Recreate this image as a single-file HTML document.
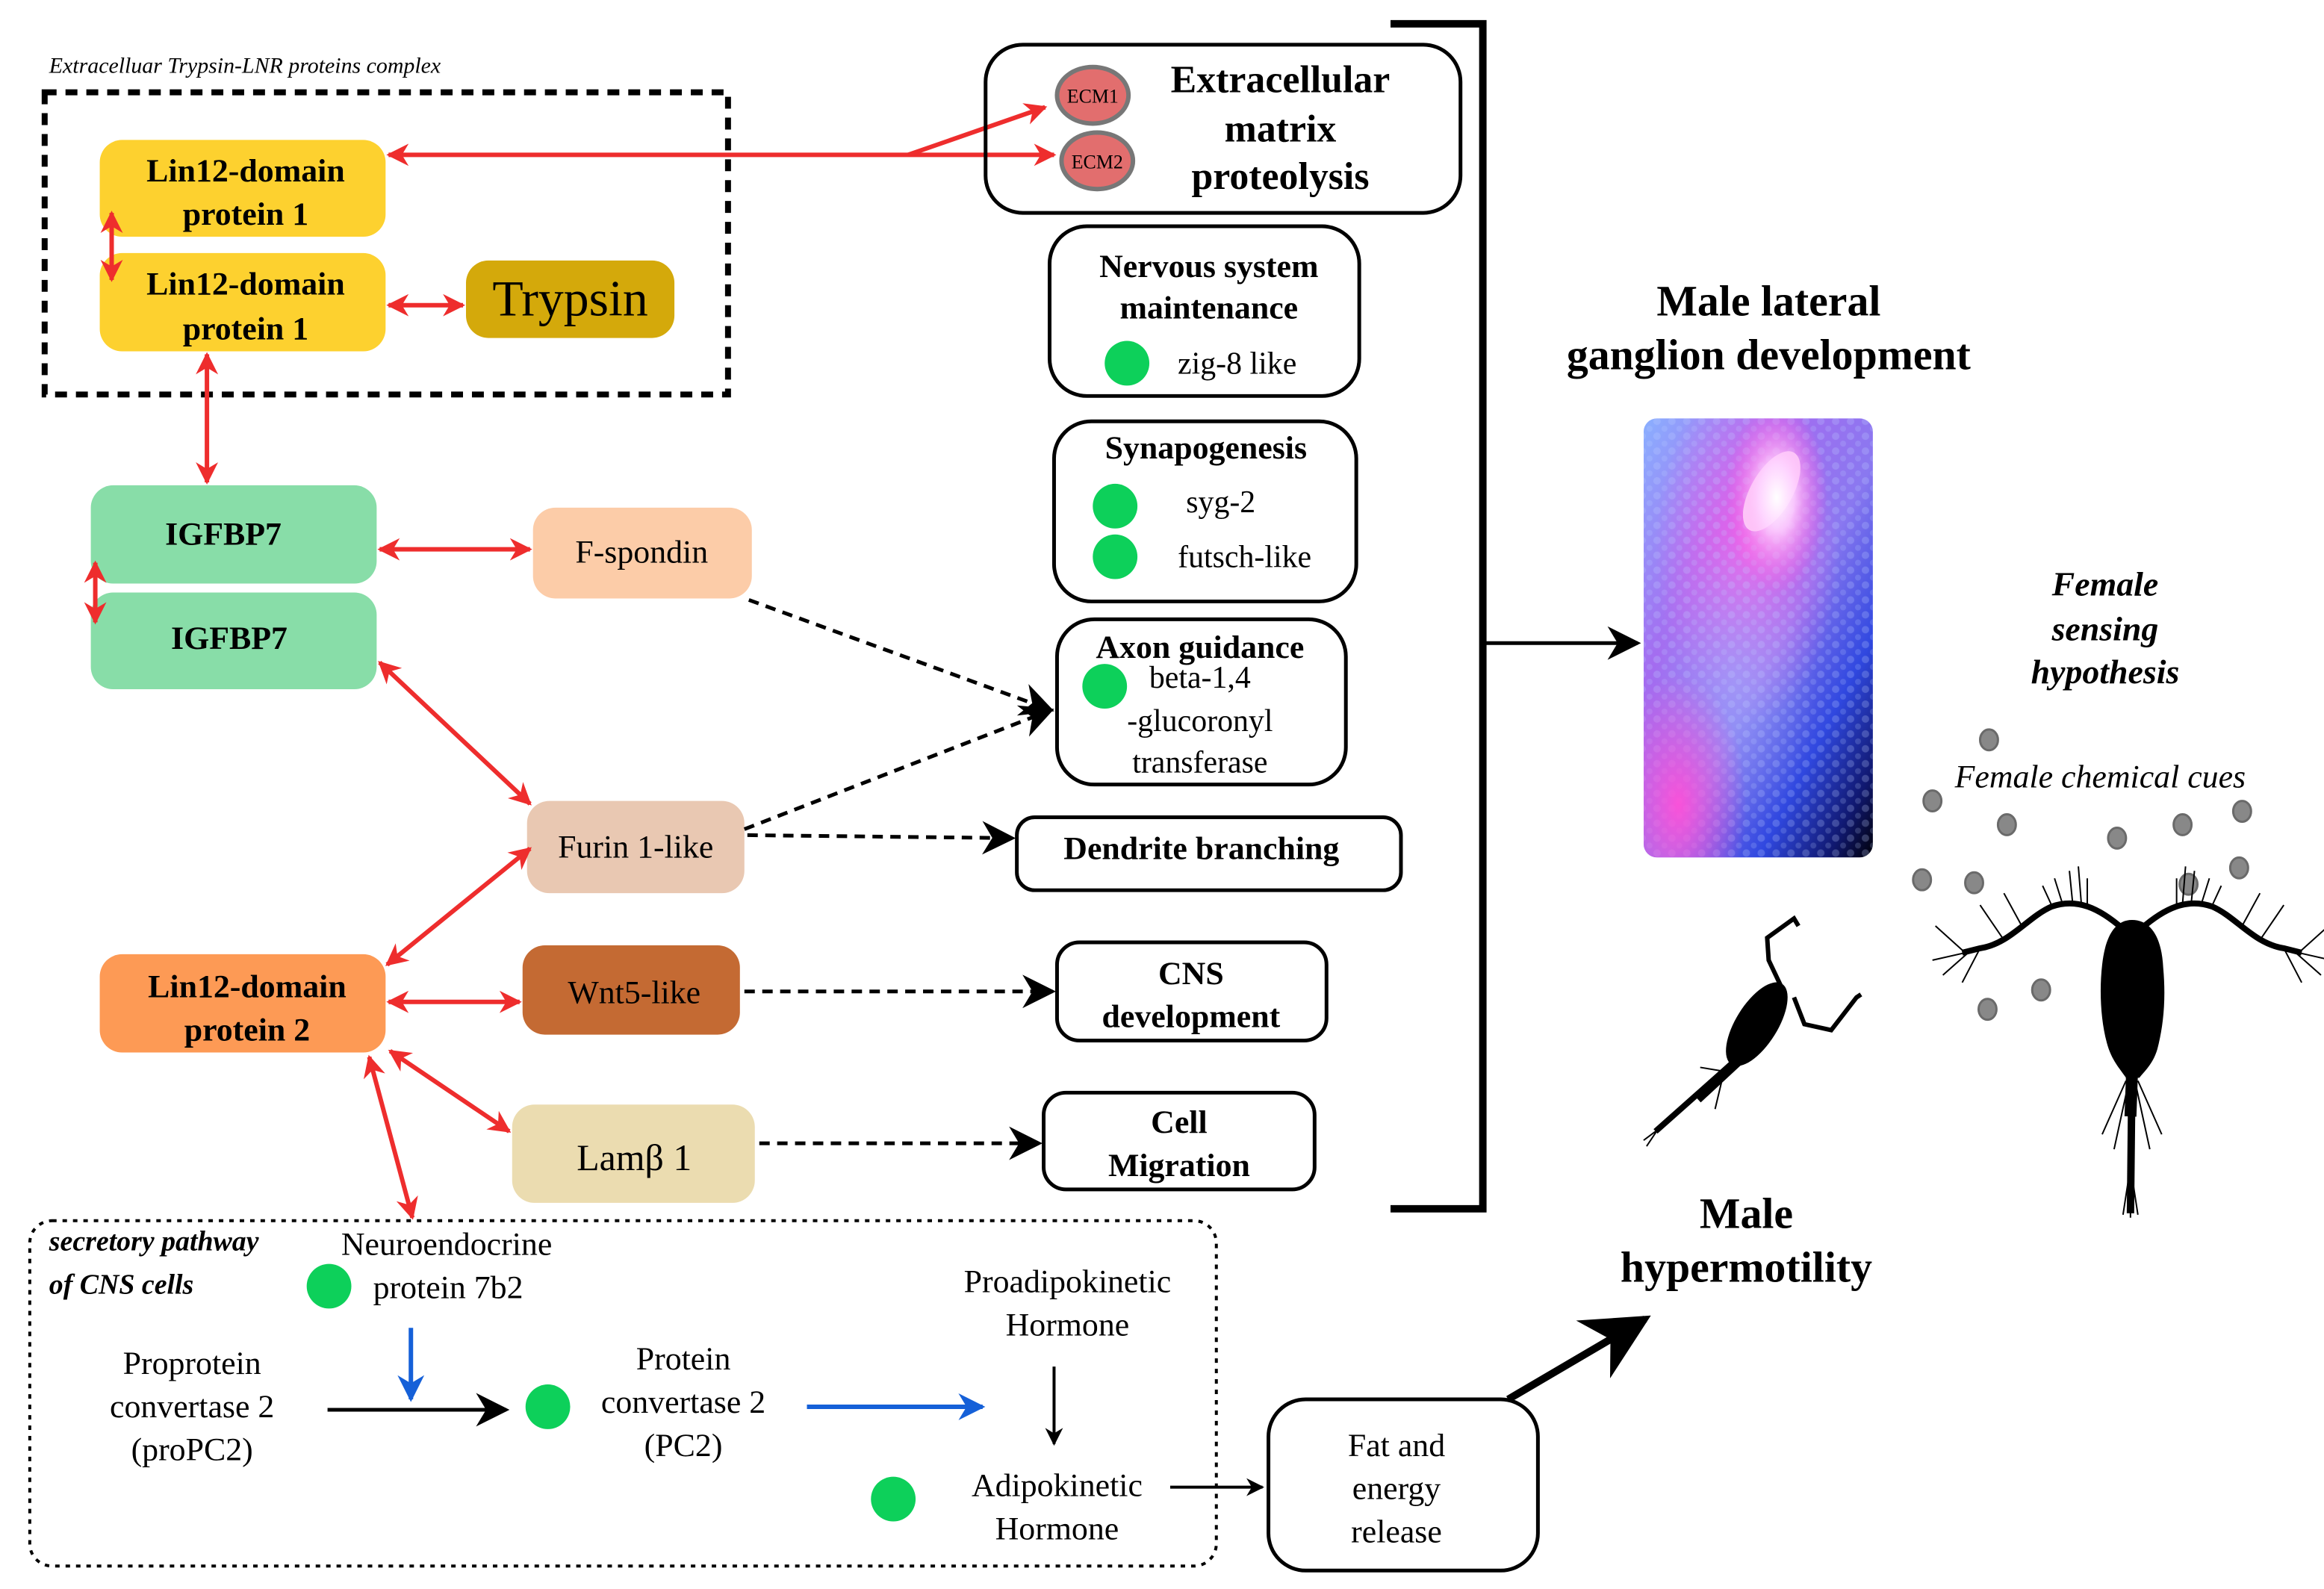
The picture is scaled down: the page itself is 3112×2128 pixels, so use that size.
<!DOCTYPE html>
<html><head><meta charset="utf-8"><style>
html,body{margin:0;padding:0;background:#fff;}
svg{display:block;}
text{font-family:"Liberation Serif",serif;}
</style></head><body>
<svg width="3112" height="2128" viewBox="0 0 1561 1067.4" xmlns="http://www.w3.org/2000/svg">
<defs>
<marker id="ra" viewBox="0 0 10 10" refX="9" refY="5" markerWidth="5" markerHeight="5" orient="auto-start-reverse"><path d="M0,0 L10,5 L0,10 L3,5 z" fill="#EE2D2D"/></marker>
<marker id="ba" viewBox="0 0 10 10" refX="9" refY="5" markerWidth="9" markerHeight="9" orient="auto"><path d="M0,0 L10,5 L0,10 L3,5 z" fill="#000"/></marker>
<marker id="bb" viewBox="0 0 10 10" refX="9" refY="5" markerWidth="6" markerHeight="6" orient="auto"><path d="M0,0 L10,5 L0,10 L3,5 z" fill="#1560d8"/></marker>
<marker id="bs" viewBox="0 0 10 10" refX="9" refY="5" markerWidth="6" markerHeight="6" orient="auto"><path d="M0,0 L10,5 L0,10 L3,5 z" fill="#000"/></marker>
<linearGradient id="img" x1="0" y1="0" x2="1" y2="1">
<stop offset="0" stop-color="#8ab0ff"/><stop offset="0.3" stop-color="#a46cf0"/><stop offset="0.55" stop-color="#8a78f0"/><stop offset="0.75" stop-color="#3048e0"/><stop offset="0.9" stop-color="#101870"/><stop offset="1" stop-color="#000008"/></linearGradient>
<radialGradient id="w1" cx="0.58" cy="0.18" r="0.22"><stop offset="0" stop-color="#ffffff" stop-opacity="1"/><stop offset="0.35" stop-color="#ffd0ff" stop-opacity="0.9"/><stop offset="1" stop-color="#ff50e0" stop-opacity="0"/></radialGradient>
<radialGradient id="p1" cx="0.45" cy="0.3" r="0.4"><stop offset="0" stop-color="#ff60e8" stop-opacity="0.8"/><stop offset="1" stop-color="#ff60e8" stop-opacity="0"/></radialGradient>
<radialGradient id="p2" cx="0.15" cy="0.88" r="0.3"><stop offset="0" stop-color="#ff50d8" stop-opacity="0.95"/><stop offset="1" stop-color="#ff50d8" stop-opacity="0"/></radialGradient>
<radialGradient id="b1" cx="0.4" cy="0.6" r="0.35"><stop offset="0" stop-color="#a0b8ff" stop-opacity="0.5"/><stop offset="1" stop-color="#a0b8ff" stop-opacity="0"/></radialGradient>
<pattern id="dots" width="10" height="10" patternUnits="userSpaceOnUse"><circle cx="3" cy="3" r="2.5" fill="#c0d0ff" opacity="0.25"/><circle cx="8" cy="8" r="2" fill="#c0d0ff" opacity="0.2"/></pattern>
<clipPath id="ic"><rect x="1104" y="281" width="154" height="295" rx="9"/></clipPath>
</defs>

<text x="33" y="49" font-size="15" font-style="italic">Extracelluar Trypsin-LNR proteins complex</text>
<rect x="30" y="62" width="459" height="203" fill="none" stroke="#000" stroke-width="4" stroke-dasharray="8,6"/>

<g font-weight="bold" font-size="22" text-anchor="middle">
<rect x="67" y="94" width="192" height="65" rx="15" fill="#FDD12F"/>
<text x="165" y="122">Lin12-domain</text><text x="165" y="151">protein 1</text>
<rect x="67" y="170" width="192" height="66" rx="15" fill="#FDD12F"/>
<text x="165" y="198">Lin12-domain</text><text x="165" y="228">protein 1</text>
<rect x="61" y="326" width="192" height="66" rx="15" fill="#88DDA8"/>
<text x="150" y="366">IGFBP7</text>
<rect x="61" y="398" width="192" height="65" rx="15" fill="#88DDA8"/>
<text x="154" y="436">IGFBP7</text>
<rect x="67" y="641" width="192" height="66" rx="15" fill="#FD9A55"/>
<text x="166" y="670">Lin12-domain</text><text x="166" y="699">protein 2</text>
</g>
<rect x="313" y="175" width="140" height="52" rx="15" fill="#D4A90B"/>
<text x="383" y="212" font-size="34" text-anchor="middle">Trypsin</text>
<g font-size="22" text-anchor="middle">
<rect x="358" y="341" width="147" height="61" rx="15" fill="#FCCCA8"/><text x="431" y="378">F-spondin</text>
<rect x="354" y="538" width="146" height="62" rx="15" fill="#E9C8B2"/><text x="427" y="576">Furin 1-like</text>
<rect x="351" y="635" width="146" height="60" rx="15" fill="#C46A33"/><text x="426" y="674">Wnt5-like</text>
<rect x="344" y="742" width="163" height="66" rx="15" fill="#EBDCB0"/><text x="426" y="786" font-size="25">Lamβ 1</text>
</g>

<g stroke="#EE2D2D" stroke-width="3" fill="none" marker-start="url(#ra)" marker-end="url(#ra)">
<line x1="261" y1="104" x2="708" y2="104"/>
<line x1="75" y1="143" x2="75" y2="188"/>
<line x1="261" y1="205" x2="311" y2="205"/>
<line x1="139" y1="238" x2="139" y2="324"/>
<line x1="255" y1="369" x2="356" y2="369"/>
<line x1="64" y1="378" x2="64" y2="418"/>
<line x1="255" y1="445" x2="356" y2="540"/>
<line x1="260" y1="648" x2="356" y2="570"/>
<line x1="261" y1="673" x2="349" y2="673"/>
<line x1="262" y1="706" x2="342" y2="760"/>
<line x1="248" y1="710" x2="277" y2="818"/>
</g>
<path d="M610 104 L702 72" stroke="#EE2D2D" stroke-width="3" marker-end="url(#ra)"/>

<g fill="none" stroke="#000" stroke-width="2.5">
<rect x="662" y="30" width="319" height="113" rx="25"/>
<rect x="705" y="152" width="208" height="114" rx="25"/>
<rect x="708" y="283" width="203" height="121" rx="25"/>
<rect x="710" y="416" width="194" height="111" rx="25"/>
<rect x="683" y="549" width="258" height="49" rx="12"/>
<rect x="710" y="633" width="181" height="66" rx="15"/>
<rect x="701" y="734" width="182" height="65" rx="15"/>
<rect x="852" y="940" width="181" height="115" rx="25"/>
</g>
<ellipse cx="734" cy="64" rx="24" ry="19" fill="#E26E6E" stroke="#777" stroke-width="3"/>
<ellipse cx="737" cy="108" rx="24" ry="19" fill="#E26E6E" stroke="#777" stroke-width="3"/>
<text x="734" y="69" font-size="13" text-anchor="middle">ECM1</text>
<text x="737" y="113" font-size="13" text-anchor="middle">ECM2</text>
<g font-weight="bold" text-anchor="middle">
<text x="860" y="62" font-size="26">Extracellular</text>
<text x="860" y="95" font-size="26">matrix</text>
<text x="860" y="127" font-size="26">proteolysis</text>
<text x="812" y="186" font-size="22">Nervous system</text>
<text x="812" y="214" font-size="22">maintenance</text>
<text x="810" y="308" font-size="22">Synapogenesis</text>
<text x="806" y="442" font-size="22">Axon guidance</text>
<text x="807" y="577" font-size="22">Dendrite branching</text>
<text x="800" y="661" font-size="22">CNS</text>
<text x="800" y="690" font-size="22">development</text>
<text x="792" y="761" font-size="22">Cell</text>
<text x="792" y="790" font-size="22">Migration</text>
</g>
<g font-size="21" text-anchor="middle">
<text x="831" y="251">zig-8 like</text>
<text x="820" y="344">syg-2</text>
<text x="836" y="381">futsch-like</text>
<text x="806" y="462">beta-1,4</text>
<text x="806" y="491">-glucoronyl</text>
<text x="806" y="519">transferase</text>
</g>
<g fill="#0DD05A">
<circle cx="757" cy="244" r="15"/><circle cx="749" cy="340" r="15"/><circle cx="749" cy="374" r="15"/><circle cx="742" cy="461" r="15"/>
<circle cx="221" cy="864" r="15"/><circle cx="368" cy="945" r="15"/><circle cx="600" cy="1007" r="15"/>
</g>

<g stroke="#000" stroke-width="2.5" stroke-dasharray="7,5" fill="none" marker-end="url(#ba)">
<line x1="503" y1="403" x2="706" y2="477"/>
<line x1="500" y1="557" x2="706" y2="477"/>
<line x1="502" y1="561" x2="680" y2="563"/>
<line x1="500" y1="666" x2="707" y2="666"/>
<line x1="510" y1="768" x2="698" y2="768"/>
</g>

<path d="M934 16 H996 V812 H934" fill="none" stroke="#000" stroke-width="5"/>
<line x1="998" y1="432" x2="1100" y2="432" stroke="#000" stroke-width="2.5" marker-end="url(#ba)"/>

<g font-weight="bold" text-anchor="middle" font-size="29">
<text x="1188" y="212">Male lateral</text>
<text x="1188" y="248">ganglion development</text>
<text x="1173" y="825">Male</text>
<text x="1173" y="861">hypermotility</text>
</g>

<!-- image -->
<g clip-path="url(#ic)">
<rect x="1104" y="281" width="154" height="295" fill="url(#img)"/>
<rect x="1104" y="281" width="154" height="295" fill="url(#p1)"/>
<rect x="1104" y="281" width="154" height="295" fill="url(#b1)"/>
<rect x="1104" y="281" width="154" height="295" fill="url(#dots)"/>
<rect x="1104" y="281" width="154" height="295" fill="url(#p2)"/>
<ellipse cx="1190" cy="330" rx="14" ry="30" transform="rotate(30 1190 330)" fill="#fff" opacity="0.9"/>
<rect x="1104" y="281" width="154" height="295" fill="url(#w1)"/>
</g>

<g font-weight="bold" font-style="italic" text-anchor="middle" font-size="23">
<text x="1414" y="400">Female</text><text x="1414" y="430">sensing</text><text x="1414" y="459">hypothesis</text>
</g>
<text x="1313" y="529" font-size="22" font-style="italic">Female  chemical cues</text>
<g fill="#888" stroke="#6a6a6a" stroke-width="1.5">
<ellipse cx="1336" cy="497" rx="6" ry="7"/><ellipse cx="1298" cy="538" rx="6" ry="7"/><ellipse cx="1348" cy="554" rx="6" ry="7"/><ellipse cx="1466" cy="554" rx="6" ry="7"/><ellipse cx="1506" cy="545" rx="6" ry="7"/><ellipse cx="1422" cy="563" rx="6" ry="7"/><ellipse cx="1291" cy="591" rx="6" ry="7"/><ellipse cx="1326" cy="593" rx="6" ry="7"/><ellipse cx="1470" cy="594" rx="6" ry="7"/><ellipse cx="1504" cy="583" rx="6" ry="7"/><ellipse cx="1371" cy="665" rx="6" ry="7"/><ellipse cx="1335" cy="678" rx="6" ry="7"/>
</g>

<!-- female copepod -->
<g fill="#000" stroke="#000">
<path d="M1432 618 C1445 618 1452 630 1453 650 C1455 672 1453 690 1449 705 C1446 715 1440 720 1437 724 L1428 724 C1424 718 1418 712 1415 700 C1411 685 1410 665 1412 648 C1414 630 1420 618 1432 618 Z" stroke="none"/>
<path d="M1426 624 C1410 610 1395 603 1378 609 C1362 616 1350 634 1330 637 L1318 640" fill="none" stroke-width="4"/>
<path d="M1438 624 C1454 610 1469 603 1486 609 C1502 616 1514 634 1534 637 L1546 640" fill="none" stroke-width="4"/>
<path d="M1432 722 L1431 815" fill="none" stroke-width="5"/>
<path d="M1432 722 L1431 750" fill="none" stroke-width="8"/>
<g fill="none" stroke-width="1">
<path d="M1320 640 L1300 622 M1320 640 L1298 645 M1322 640 L1305 655 M1330 637 L1318 660 M1345 630 L1330 608 M1358 622 L1346 600 M1378 608 L1372 595 M1385 606 L1380 590 M1392 605 L1390 585 M1398 607 L1396 582 M1402 608 L1402 590"/>
<path d="M1544 640 L1564 622 M1544 640 L1566 645 M1542 640 L1559 655 M1534 637 L1546 660 M1519 630 L1534 608 M1506 622 L1518 600 M1486 608 L1492 595 M1479 606 L1484 590 M1472 605 L1474 585 M1466 607 L1468 582 M1462 608 L1462 590"/>
<path d="M1428 726 L1412 762 M1430 726 L1420 772 M1436 726 L1452 762 M1434 726 L1444 772 M1430 790 L1426 816 M1431 790 L1431 818 M1432 790 L1436 816"/>
</g>
</g>

<!-- male copepod -->
<g fill="#000" stroke="#000">
<ellipse cx="1180" cy="688" rx="14" ry="32" transform="rotate(32 1180 688)" stroke="none"/>
<path d="M1166 712 L1112 760" fill="none" stroke-width="4"/>
<path d="M1168 712 L1140 738" fill="none" stroke-width="7"/>
<path d="M1197 664 L1188 645 L1187 630 L1205 617 L1208 622" fill="none" stroke-width="3"/>
<path d="M1205 670 L1212 688 L1230 692 L1247 670 L1250 668" fill="none" stroke-width="3"/>
<g fill="none" stroke-width="1">
<path d="M1160 720 L1142 717 M1158 722 L1145 730 M1157 724 L1152 745 M1112 760 L1104 766 M1114 758 L1106 770"/>
</g>
</g>

<rect x="20" y="820" width="797" height="232" rx="15" fill="none" stroke="#000" stroke-width="2" stroke-dasharray="3,4"/>
<g font-size="19" font-weight="bold" font-style="italic">
<text x="33" y="840">secretory pathway</text><text x="33" y="869">of CNS cells</text>
</g>
<g font-size="22" text-anchor="middle">
<text x="300" y="843">Neuroendocrine</text><text x="301" y="872">protein 7b2</text>
<text x="129" y="923">Proprotein</text><text x="129" y="952">convertase 2</text><text x="129" y="981">(proPC2)</text>
<text x="459" y="920">Protein</text><text x="459" y="949">convertase 2</text><text x="459" y="978">(PC2)</text>
<text x="717" y="868">Proadipokinetic</text><text x="717" y="897">Hormone</text>
<text x="710" y="1005">Adipokinetic</text><text x="710" y="1034">Hormone</text>
<text x="938" y="978">Fat and</text><text x="938" y="1007">energy</text><text x="938" y="1036">release</text>
</g>
<line x1="276" y1="892" x2="276" y2="940" stroke="#1560d8" stroke-width="3" marker-end="url(#bb)"/>
<line x1="542" y1="945" x2="660" y2="945" stroke="#1560d8" stroke-width="3" marker-end="url(#bb)"/>
<line x1="220" y1="947" x2="340" y2="947" stroke="#000" stroke-width="2.5" marker-end="url(#ba)"/>
<line x1="708" y1="918" x2="708" y2="970" stroke="#000" stroke-width="2" marker-end="url(#bs)"/>
<line x1="786" y1="999" x2="848" y2="999" stroke="#000" stroke-width="2" marker-end="url(#bs)"/>
<line x1="1013" y1="940" x2="1105" y2="886" stroke="#000" stroke-width="5" marker-end="url(#ba)"/>
</svg>
</body></html>
